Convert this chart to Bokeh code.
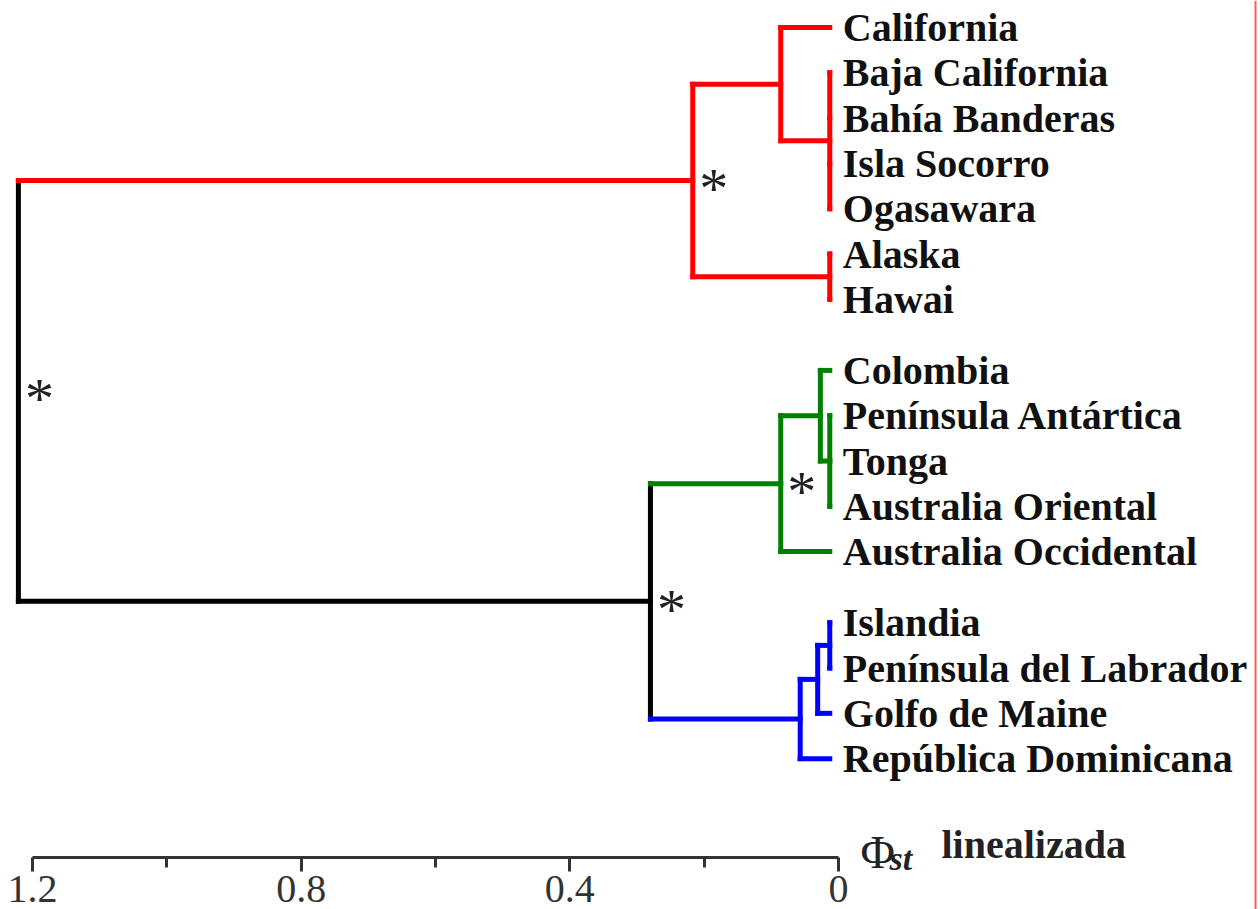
from bokeh.plotting import figure
from bokeh.models import Range1d, LinearAxis, FixedTicker, ColumnDataSource, Label, Span
from bokeh.core.properties import value
from bokeh.embed import file_html
from bokeh.resources import INLINE

# ---------------- data ----------------
leaves = ["California", "Baja California", "Bahía Banderas", "Isla Socorro", "Ogasawara",
          "Alaska", "Hawai",
          "Colombia", "Península Antártica", "Tonga", "Australia Oriental", "Australia Occidental",
          "Islandia", "Península del Labrador", "Golfo de Maine", "República Dominicana"]
leaf_group = [0, 0, 0, 0, 0, 0, 0, 1, 1, 1, 1, 1, 2, 2, 2, 2]
group_colors = ["#ff0000", "#008000", "#0000ff"]
leaf_height = 0.013

# internal nodes (ids 16..27): children and merge heights (Phi_st linealizada)
node_children = [
    [1, 2, 3, 4],   # 16
    [0, 16],        # 17
    [5, 6],         # 18
    [17, 18],       # 19 red clade
    [8, 9, 10],     # 20
    [7, 20],        # 21
    [21, 11],       # 22 green clade
    [12, 13],       # 23
    [23, 14],       # 24
    [24, 15],       # 25 blue clade
    [22, 25],       # 26
    [19, 26],       # 27 root
]
node_heights = [0.013, 0.086, 0.013, 0.217, 0.013, 0.027, 0.086, 0.013, 0.031, 0.057, 0.280, 1.221]
node_colors = ["#ff0000"] * 4 + ["#008000"] * 3 + ["#0000ff"] * 3 + ["#000000"] * 2
asterisk_nodes = [19, 22, 26, 27]

tick_values = [1.2, 0.8, 0.4, 0.0]
tick_labels = ["1.2", "0.8", "0.4", "0"]
minor_tick_values = [1.0, 0.6, 0.2]
axis_symbol = "Φ"
axis_sub = "st"
axis_word = "linealizada"

# ---------------- layout ----------------
W, H = 1260, 909
PX_MAX, PX_ZERO = 32, 838          # screen x of 1.2 and 0
ppu = (PX_ZERO - PX_MAX) / 1.2
ROW = 45.3                          # px per leaf row
GAP = 0.57                          # extra rows between clades
TOP = 27                            # screen y of first leaf
AXIS_PX = 857                       # screen y of the axis line
EDGE_PX = 1255                      # thin red frame line at right edge

leaf_y = [i + GAP * g for i, g in enumerate(leaf_group)]
n_leaves = len(leaves)
heights = [leaf_height] * n_leaves + node_heights
colors = [group_colors[g] for g in leaf_group] + node_colors
ypos = list(leaf_y)

x0s, x1s, y0s, y1s, cols = [], [], [], [], []
for j, ch in enumerate(node_children):
    h = node_heights[j]
    cy = [ypos[c] for c in ch]
    ypos.append((min(cy) + max(cy)) / 2)
    x0s.append(h); x1s.append(h); y0s.append(min(cy)); y1s.append(max(cy)); cols.append(node_colors[j])
    for c in ch:
        x0s.append(heights[c]); x1s.append(h); y0s.append(ypos[c]); y1s.append(ypos[c]); cols.append(colors[c])

x_left = 1.2 + PX_MAX / ppu
x_right = -(W - PX_ZERO) / ppu
p = figure(width=W, height=H, output_backend="svg", toolbar_location=None,
           x_axis_type=None, y_axis_type=None, min_border=0,
           x_range=Range1d(x_left, x_right),
           y_range=Range1d((H - TOP) / ROW, -TOP / ROW))
p.outline_line_color = None
p.xgrid.visible = False
p.ygrid.visible = False
p.background_fill_color = "white"
p.border_fill_color = "white"

p.add_layout(Span(location=-(EDGE_PX - PX_ZERO) / ppu, dimension="height",
                  line_color="#ff5c5c", line_width=2))

p.segment(x0=x0s, y0=y0s, x1=x1s, y1=y1s, line_color=cols, line_width=5, line_cap="square")

src = ColumnDataSource(dict(x=[leaf_height] * n_leaves, y=leaf_y, t=leaves))
p.text(x="x", y="y", text="t", source=src, x_offset=13, y_offset=0,
       text_font=value("Liberation Serif"), text_font_style="bold", text_font_size="40px",
       text_color="#111111", text_baseline="alphabetic", text_align="left")

ast = ColumnDataSource(dict(x=[heights[n] for n in asterisk_nodes], y=[ypos[n] for n in asterisk_nodes],
                            t=["*"] * len(asterisk_nodes)))
p.text(x="x", y="y", text="t", source=ast, x_offset=21, y_offset=8,
       text_font=value("Liberation Serif"), text_font_size="58px",
       text_color="#222222", text_baseline="middle", text_align="center")

axis_y = (AXIS_PX - TOP) / ROW
ax = LinearAxis(fixed_location=axis_y, bounds=(0, 1.2),
                ticker=FixedTicker(ticks=tick_values, minor_ticks=minor_tick_values),
                major_label_overrides={v: t for v, t in zip(tick_values, tick_labels)})
ax.axis_line_width = 3
ax.axis_line_color = "#333333"
ax.major_tick_line_width = 3
ax.major_tick_line_color = "#333333"
ax.minor_tick_line_width = 3
ax.minor_tick_line_color = "#333333"
ax.major_tick_in = 0
ax.major_tick_out = 14
ax.minor_tick_in = 0
ax.minor_tick_out = 10
ax.major_label_standoff = 4
ax.major_label_text_font = "Liberation Serif"
ax.major_label_text_font_size = "40px"
ax.major_label_text_color = "#333333"
p.add_layout(ax, "below")

p.add_layout(Label(x=0, y=axis_y, x_offset=22, y_offset=6, text=axis_symbol,
                   text_font="Liberation Serif", text_font_size="47px", text_color="#222222",
                   text_baseline="alphabetic"))
p.add_layout(Label(x=0, y=axis_y, x_offset=51, y_offset=-1, text=axis_sub,
                   text_font="Liberation Serif", text_font_style="bold italic", text_font_size="34px",
                   text_color="#222222", text_baseline="alphabetic"))
p.add_layout(Label(x=0, y=axis_y, x_offset=103, y_offset=13, text=axis_word,
                   text_font="Liberation Serif", text_font_style="bold", text_font_size="40px",
                   text_color="#222222", text_baseline="alphabetic"))

open("out.html", "w").write(file_html(p, INLINE))
